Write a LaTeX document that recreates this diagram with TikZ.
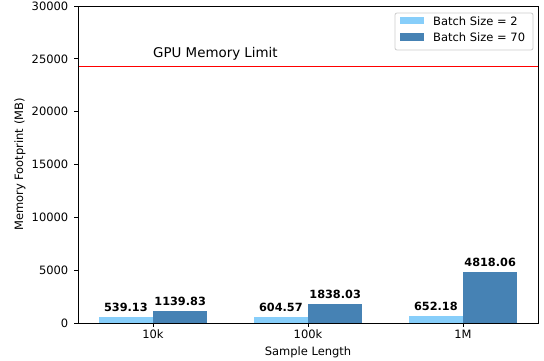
\documentclass[tikz,border=0pt]{standalone}
\usepackage{fontspec}
\setmainfont{DejaVu Sans}
\definecolor{lightb}{HTML}{87CEFA}
\definecolor{darkb}{HTML}{4682B4}
\begin{document}
\begin{tikzpicture}[x=1pt,y=1pt,
  lbl/.style={font=\fontsize{11.5}{13}\selectfont, inner sep=0pt},
  vlab/.style={font=\fontsize{11.3}{13}\selectfont\bfseries, inner sep=0pt, anchor=base},
  spine/.style={line width=0.9pt, black},
  tickmark/.style={line width=0.9pt, black},
]
\useasboundingbox (0,0) rectangle (544,360);
% data scope: x in category index, y in thousands of MB
\begin{scope}[shift={(153,37)}, x=155pt, y=10.5667pt]
  % bars
  \foreach \i/\a/\b in {0/0.53913/1.13983, 1/0.60457/1.83803, 2/0.65218/4.81806}{
    \fill[lightb] (\i-0.35,0) rectangle (\i,\a);
    \fill[darkb] (\i,0) rectangle (\i+0.35,\b);
  }
  % value labels
  \node[vlab] (v1a) at (-0.175,0.53913) [yshift=5.5pt] {539.13};
  \node[vlab] (v1b) at (0.175,1.13983) [yshift=5.5pt] {1139.83};
  \node[vlab] (v2a) at (0.825,0.60457) [yshift=5.5pt] {604.57};
  \node[vlab] (v2b) at (1.175,1.83803) [yshift=5.5pt] {1838.03};
  \node[vlab] (v3a) at (1.825,0.65218) [yshift=5.5pt] {652.18};
  \node[vlab] (v3b) at (2.175,4.81806) [yshift=5.5pt] {4818.06};
  % memory limit
  \coordinate (limL) at (-0.4839,24.25);
  \coordinate (limR) at (2.4839,24.25);
  \draw[red, line width=1pt] (limL) -- (limR);
  \node[font=\fontsize{13.4}{15}\selectfont, inner sep=0pt, anchor=base west] (lim) at (0,25.1) {GPU Memory Limit};
  % x ticks
  \foreach \i/\t in {0/10k,1/100k,2/1M}{
    \draw[tickmark] (\i,0) -- ++(0,-4pt);
    \node[lbl, anchor=north] (xt\i) at (\i,0) [yshift=-7pt] {\t};
  }
  % y ticks
  \foreach \v/\t in {0/0,5/5000,10/10000,15/15000,20/20000,25/25000,30/30000}{
    \draw[tickmark] (-0.4839,\v) -- ++(-4pt,0);
    \node[lbl, anchor=east] (yt\v) at (-0.4839,\v) [xshift=-9.5pt] {\t};
  }
\end{scope}
% spines
\draw[spine] (78,37) rectangle (538,354);
% axis labels
\node[lbl, anchor=north] (xlab) at (308,13) {Sample Length};
\node[lbl, rotate=90] (ylab) at (20,195.5) {Memory Footprint (MB)};
% legend
\draw[draw=black!20, fill=white, line width=0.8pt, rounded corners=2pt] (395,310) rectangle (533,347);
\fill[lightb] (400,335.7) rectangle (424,342.7);
\fill[darkb] (400,319.5) rectangle (424,326.8);
\node[lbl, anchor=west] (leg1) at (433,339.2) {Batch Size = 2};
\node[lbl, anchor=west] (leg2) at (433,323.2) {Batch Size = 70};
\end{tikzpicture}
\end{document}
